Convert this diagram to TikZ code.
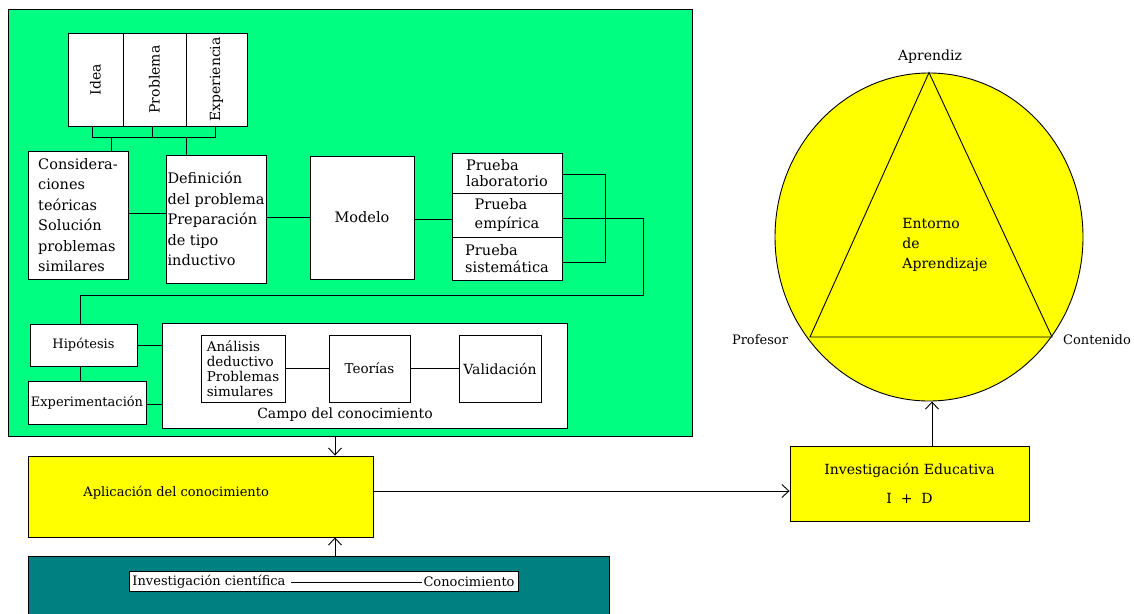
\documentclass[tikz,border=0pt]{standalone}
\usepackage{fontspec}
\setmainfont{DejaVu Serif}
\usetikzlibrary{arrows.meta,calc,shapes.geometric}
\definecolor{sgreen}{HTML}{00FF80}
\definecolor{yel}{HTML}{FFFF00}
\definecolor{tealc}{HTML}{008080}
\begin{document}
\begin{tikzpicture}[x=1pt,y=-1pt,line width=0.9pt,
  box/.style={draw,fill=white,inner sep=0.5pt,align=center,font=\fontsize{14.5}{20.5}\selectfont},
  lbox/.style={box,align=left},
  ybox/.style={draw,fill=yel,inner sep=1pt,align=center,font=\fontsize{14}{20}\selectfont},
  txt/.style={inner sep=1pt,font=\fontsize{13}{20}\selectfont},
  arr/.style={-{Straight Barb[length=7pt,width=13pt]}}]
\useasboundingbox (0,0) rectangle (1134,613);
\fill[white] (0,0) rectangle (1134,613);
% green panel
\node[draw,fill=sgreen,minimum width=684pt,minimum height=427pt,inner sep=0] (green) at (350,222.5) {};
% top columns
\node[box,font=\fontsize{14}{20}\selectfont,rotate=90,minimum width=93pt,minimum height=55pt] (idea) at (95.5,79.5) {Idea};
\node[box,font=\fontsize{14}{20}\selectfont,rotate=90,minimum width=93pt,minimum height=63pt] (prob) at (154.5,79.5) {Problema};
\node[box,font=\fontsize{14}{20}\selectfont,rotate=90,minimum width=93pt,minimum height=61pt] (expc) at (216.5,79.5) {Experiencia};
\coordinate (b1) at (92,137);
\coordinate (b2) at (152,137);
\coordinate (b3) at (215,137);
\draw (b1 |- idea.west) -- (b1) -- (b3) -- (b3 |- expc.west);
\draw (b2 |- prob.west) -- (b2);
% second row
\node[lbox,minimum width=100pt,minimum height=128pt] (cons) at (78,215) {Considera-\\ciones\\teóricas\\Solución\\problemas\\similares};
\node[lbox,minimum width=100pt,minimum height=128pt] (def) at (216,219) {Definición\\del problema\\Preparación\\de tipo\\inductivo};
\node[box,minimum width=104pt,minimum height=123pt] (modelo) at (362,217.5) {Modelo};
\node[lbox,font=\fontsize{14.5}{16}\selectfont,minimum width=110pt,minimum height=40pt] (lab) at (507,173) {Prueba\\laboratorio};
\node[lbox,font=\fontsize{14.5}{19}\selectfont,minimum width=110pt,minimum height=44pt] (emp) at (507,215) {Prueba\\empírica};
\node[lbox,font=\fontsize{14.5}{17}\selectfont,minimum width=110pt,minimum height=43pt] (sis) at (507,258.5) {Prueba\\sistemática};
\coordinate (k1) at (111,137);
\coordinate (k2) at (186,137);
\draw (k1) -- (k1 |- cons.north);
\draw (k2) -- (k2 |- def.north);
\draw (cons.east |- 0,213) -- (def.west |- 0,213);
\draw (def.east |- 0,217) -- (modelo.west |- 0,217);
\draw (modelo.east |- 0,219) -- (emp.west |- 0,219);
\coordinate (r1) at (605,174);
\coordinate (r2) at (605,262);
\draw (lab.east |- r1) -- (r1) -- (r2) -- (sis.east |- r2);
\coordinate (q1) at (643,218);
\coordinate (q2) at (643,295);
\coordinate (q3) at (80,295);
% third row
\node[box,font=\fontsize{13}{20}\selectfont,minimum width=107pt,minimum height=42pt] (hip) at (83.5,345) {Hipótesis};
\node[box,font=\fontsize{13}{20}\selectfont,minimum width=118pt,minimum height=43pt] (expm) at (87,402.5) {Experimentación};
\draw (emp.east |- q1) -- (q1) -- (q2) -- (q3) -- (q3 |- hip.north);
\draw (q3 |- hip.south) -- (q3 |- expm.north);
\node[draw,fill=white,minimum width=405pt,minimum height=105pt,inner sep=0] (campo) at (364.5,375.5) {};
\draw (hip.east) -- (hip.east -| campo.west);
\draw (expm.east |- 0,404) -- (campo.west |- 0,404);
\node[lbox,font=\fontsize{13.5}{14.8}\selectfont,minimum width=84pt,minimum height=67pt] (anal) at (243,368.5) {Análisis\\deductivo\\Problemas\\simulares};
\node[box,font=\fontsize{13.5}{20}\selectfont,minimum width=81pt,minimum height=67pt] (teo) at (369.5,368.5) {Teorías};
\node[box,font=\fontsize{14}{20}\selectfont,minimum width=82pt,minimum height=67pt] (val) at (500,368.5) {Validación};
\draw (anal.east) -- (teo.west);
\draw (teo.east) -- (val.west);
\node[txt,font=\fontsize{14}{20}\selectfont] (campolbl) at (345,415) {Campo del conocimiento};
% application
\node[draw,fill=yel,minimum width=345pt,minimum height=81pt,inner sep=0] (apl) at (200.5,496.5) {};
\node[txt,anchor=west] (apltxt) at (82,493) {Aplicación del conocimiento};
\coordinate (v1) at (335,0);
\draw[arr] (green.south -| v1) -- (apl.north -| v1);
% bottom teal
\node[draw,fill=tealc,minimum width=581pt,minimum height=70pt,inner sep=0,anchor=north west] (teal) at (28,556) {};
\node[draw,fill=white,minimum width=389pt,minimum height=20pt,inner sep=0] (inner) at (323.5,581.5) {};
\node[txt,anchor=west] (ic) at (131,582) {Investigación científica};
\node[txt,anchor=east] (cono) at (516,582) {Conocimiento};
\draw ([xshift=4pt]ic.east) -- (cono.west);
\draw[arr] (teal.north -| v1) -- (apl.south -| v1);
% investigacion educativa
\node[ybox,minimum width=239pt,minimum height=75pt] (inv) at (909.5,483.5) {Investigación Educativa\\[9pt]I \ + \ D};
\coordinate (h1) at (0,491);
\draw[arr] (apl.east |- h1) -- (inv.west |- h1);
% circle and triangle
\node[ellipse,draw,fill=yel,minimum width=308pt,minimum height=328pt,inner sep=0] (circ) at (929,237) {};
\coordinate (v2) at (932,0);
\draw[arr] (inv.north -| v2) -- (circ.south -| v2);
\coordinate (A) at (circ.north);
\coordinate (P) at (810,337);
\coordinate (C) at (1052,337);
\draw (A) -- (P) -- (C) -- cycle;
\node[txt,font=\fontsize{14}{20}\selectfont,align=left,anchor=west] (ent) at (901,245) {Entorno\\de\\Aprendizaje};
\node[txt,font=\fontsize{14}{20}\selectfont] (aprendiz) at (930,57) {Aprendiz};
\node[txt] (profesor) at (760,340) {Profesor};
\node[txt] (contenido) at (1097,340) {Contenido};
\end{tikzpicture}
\end{document}
